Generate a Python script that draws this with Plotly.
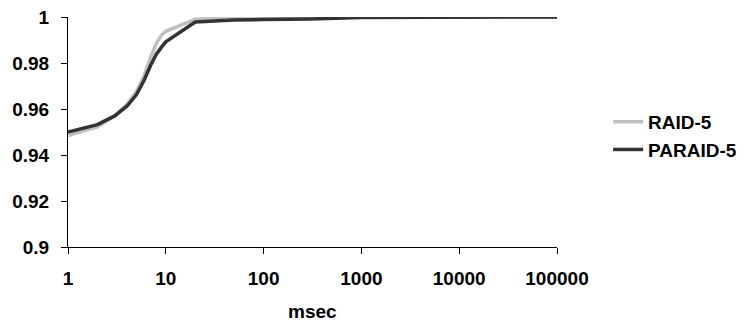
import plotly.graph_objects as go

x_vals = [1, 2, 3, 4, 5, 6, 7, 8, 9, 10, 20, 30, 50, 100, 200, 300, 1000, 10000, 100000]
raid5 = [0.9485, 0.9522, 0.9570, 0.9620, 0.9675, 0.9745, 0.9825, 0.9885, 0.9920, 0.9938,
         0.9990, 0.9995, 0.9998, 0.9999, 0.9999, 0.9999, 1.0, 1.0, 1.0]
paraid5 = [0.9500, 0.9532, 0.9570, 0.9612, 0.9662, 0.9725, 0.9790, 0.9838, 0.9868, 0.9892,
           0.9978, 0.9982, 0.9987, 0.9989, 0.9990, 0.9991, 0.9998, 1.0, 1.0]
x_ticks = [1, 10, 100, 1000, 10000, 100000]
y_ticks = [0.9, 0.92, 0.94, 0.96, 0.98, 1]

FAM = "Liberation Sans, Arial, sans-serif"
bold = dict(family=FAM, size=19, color="black", weight="bold")

W, H = 744, 324
M_L, M_R, M_T, M_B = 68, 187, 17, 77
plot_h = H - M_T - M_B

fig = go.Figure()
fig.add_trace(go.Scatter(x=x_vals, y=raid5, mode="lines", name="RAID-5",
                         line=dict(color="#c0c0c0", width=3.5)))
fig.add_trace(go.Scatter(x=x_vals, y=paraid5, mode="lines", name="PARAID-5",
                         line=dict(color="#333333", width=3.5)))

fig.update_layout(
    template="none",
    width=W, height=H,
    margin=dict(l=M_L, r=M_R, t=M_T, b=M_B, autoexpand=False),
    paper_bgcolor="white", plot_bgcolor="white",
    font=dict(family=FAM, size=19, color="black"),
    showlegend=True,
    legend=dict(x=1.1045, y=0.483, xanchor="left", yanchor="middle",
                font=bold, bgcolor="rgba(0,0,0,0)", borderwidth=0, tracegroupgap=0),
    xaxis=dict(type="log", range=[0, 5], tickvals=x_ticks, ticktext=[str(v) for v in x_ticks],
               showgrid=False, zeroline=False, showline=True, linecolor="black", linewidth=1,
               ticks="outside", ticklen=6, tickwidth=1, tickcolor="black", ticklabelstandoff=8,
               automargin=False, tickfont=bold),
    yaxis=dict(range=[0.9, 1.0], tickvals=y_ticks, ticktext=["0.9", "0.92", "0.94", "0.96", "0.98", "1"],
               showgrid=False, zeroline=False, showline=True, linecolor="black", linewidth=1,
               ticks="outside", ticklen=6, tickwidth=1, tickcolor="black", ticklabelstandoff=8,
               automargin=False, tickfont=bold),
    annotations=[dict(text="msec", x=0.5, xref="paper", y=(H - M_B - (H - 1)) / plot_h, yref="paper",
                      showarrow=False, font=bold, yanchor="bottom", xanchor="center", borderpad=0)],
)

fig.write_html("out.html")
